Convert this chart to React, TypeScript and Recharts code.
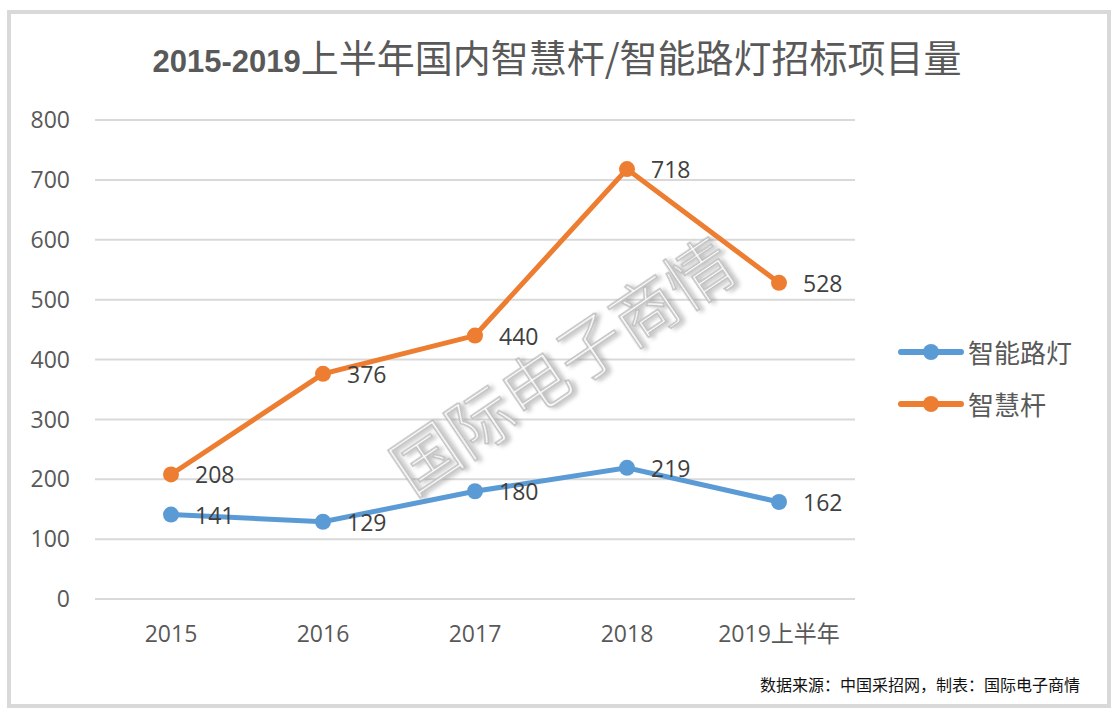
import React from "react";
import { LineChart, Line, XAxis, YAxis, CartesianGrid } from "recharts";

const categories = ["2015", "2016", "2017", "2018", "2019上半年"];
const streetLight = [141, 129, 180, 219, 162];
const smartPole = [208, 376, 440, 718, 528];
const yTicks = [0, 100, 200, 300, 400, 500, 600, 700, 800];

const series = [
  { key: "streetLight", name: "智能路灯", color: "#5B9BD5" },
  { key: "smartPole", name: "智慧杆", color: "#ED7D31" },
];

const data = categories.map((c, i) => ({
  cat: c,
  streetLight: streetLight[i],
  smartPole: smartPole[i],
}));

const numFont = "'Open Sans', 'Noto Sans CJK SC', sans-serif";
const cjkFont = "'Noto Sans CJK SC', sans-serif";

const renderLabel = (props: any) => {
  const { x, y, value } = props;
  return (
    <text
      x={x + 24}
      y={y}
      dominantBaseline="central"
      fontSize={23}
      fontFamily={numFont}
      fill="#404040"
    >
      {value}
    </text>
  );
};

const LegendBox = () => (
  <div
    style={{
      position: "absolute",
      left: 898,
      top: 336,
      display: "flex",
      flexDirection: "column",
      gap: 20,
    }}
  >
    {series.map((s) => (
      <div key={s.key} style={{ display: "flex", alignItems: "center", height: 32 }}>
        <svg width={66} height={20}>
          <line x1={3} y1={10} x2={63} y2={10} stroke={s.color} strokeWidth={6} strokeLinecap="round" />
          <circle cx={33} cy={10} r={8} fill={s.color} />
        </svg>
        <span
          style={{
            fontFamily: cjkFont,
            fontSize: 26,
            color: "#595959",
            marginLeft: 4,
            lineHeight: "32px",
          }}
        >
          {s.name}
        </span>
      </div>
    ))}
  </div>
);

export default function App() {
  return (
    <div
      style={{
        position: "absolute",
        left: 0,
        top: 0,
        width: 1114,
        height: 714,
        background: "#ffffff",
        overflow: "hidden",
      }}
    >
      <div
        style={{
          position: "absolute",
          left: 7,
          top: 10,
          width: 1096,
          height: 690,
          border: "4px solid #d9d9d9",
          boxSizing: "content-box",
        }}
      />
      <div
        style={{
          position: "absolute",
          left: 0,
          width: 1114,
          top: 31,
          height: 50,
          lineHeight: "50px",
          textAlign: "center",
          color: "#595959",
          fontFamily: cjkFont,
          fontSize: 38,
          whiteSpace: "nowrap",
        }}
      >
        <span style={{ fontFamily: "'Liberation Sans', sans-serif", fontWeight: 700, fontSize: 31 }}>
          2015-2019
        </span>
        <span>上半年国内智慧杆/智能路灯招标项目量</span>
      </div>
      <div style={{ position: "absolute", left: 0, top: 0 }}>
        <LineChart
          width={1114}
          height={714}
          data={data}
          margin={{ top: 120, right: 259, bottom: 0, left: 8 }}
        >
          <CartesianGrid vertical={false} stroke="#d9d9d9" strokeWidth={2} />
          <XAxis
            dataKey="cat"
            axisLine={false}
            tickLine={false}
            tickSize={0}
            tickMargin={27}
            padding={{ left: 76, right: 76 }}
            tick={{ fontSize: 23, fill: "#595959", fontFamily: numFont }}
            height={115}
          />
          <YAxis
            domain={[0, 800]}
            ticks={yTicks}
            axisLine={false}
            tickLine={false}
            tickSize={0}
            tickMargin={25}
            width={87}
            tick={{ fontSize: 23, fill: "#595959", fontFamily: numFont }}
          />
          {series.map((s) => (
            <Line
              key={s.key}
              dataKey={s.key}
              name={s.name}
              stroke={s.color}
              strokeWidth={5}
              dot={{ r: 8, fill: s.color, stroke: s.color, strokeWidth: 0 }}
              activeDot={false}
              label={renderLabel}
              isAnimationActive={false}
            />
          ))}
        </LineChart>
      </div>
      <LegendBox />
      <svg
        width={1114}
        height={714}
        style={{ position: "absolute", left: 0, top: 0, pointerEvents: "none" }}
      >
        <defs>
          <filter id="wmShadow" x="-10%" y="-10%" width="120%" height="120%">
            <feDropShadow dx={3} dy={3} stdDeviation={2} floodColor="#8a8a8a" floodOpacity={0.6} />
          </filter>
        </defs>
        <text
          x={560}
          y={362}
          textAnchor="middle"
          dominantBaseline="central"
          transform="rotate(-34 560 362)"
          fontFamily={cjkFont}
          fontSize={66}
          fontWeight={300}
          fill="#ffffff"
          stroke="#b8b8b8"
          strokeWidth={1.5}
          filter="url(#wmShadow)"
          opacity={0.9}
        >
          国际电子商情
        </text>
        <text
          x={1080}
          y={684}
          textAnchor="end"
          dominantBaseline="central"
          fontFamily={cjkFont}
          fontSize={16}
          fill="#111111"
        >
          数据来源：中国采招网，制表：国际电子商情
        </text>
      </svg>
    </div>
  );
}
